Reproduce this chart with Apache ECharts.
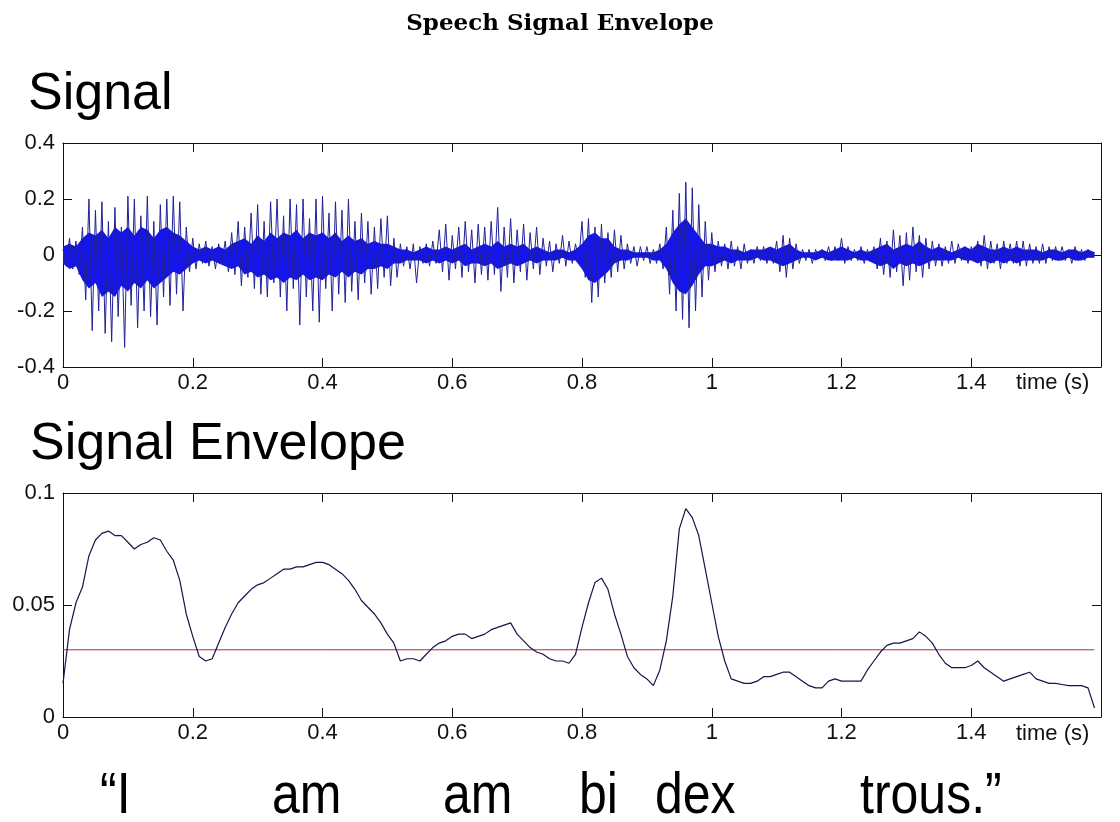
<!DOCTYPE html>
<html>
<head>
<meta charset="utf-8">
<script src="https://cdn.jsdelivr.net/npm/echarts@6/dist/echarts.min.js"></script>
<style>
  html, body { margin: 0; padding: 0; background: #fff; }
  #chart { width: 1120px; height: 822px; }
</style>
</head>
<body>
<div id="chart"></div>
<script>
// sampled speech waveform (spikes), one value every 5 ms
var dt = 0.005;
var signal = [
  0.02, -0.04, 0.06, -0.05, 0.05, -0.07, 0.10, -0.16, 0.20, -0.27, 0.16, -0.20, 0.19, -0.28, 0.12, -0.31, 0.17, -0.22, 0.10, -0.33,
  0.21, -0.18, 0.20, -0.26, 0.14, -0.20, 0.21, -0.22, 0.12, -0.25, 0.18, -0.15, 0.20, -0.18, 0.21, -0.14, 0.19, -0.20, 0.10, -0.06,
  0.06, -0.05, 0.04, -0.03, 0.05, -0.04, 0.03, -0.05, 0.04, -0.03, 0.05, -0.06, 0.08, -0.07, 0.12, -0.11, 0.10, -0.08, 0.15, -0.12,
  0.18, -0.14, 0.12, -0.15, 0.19, -0.10, 0.20, -0.15, 0.14, -0.20, 0.20, -0.12, 0.18, -0.25, 0.20, -0.15, 0.13, -0.20, 0.20, -0.24,
  0.21, -0.12, 0.15, -0.20, 0.19, -0.14, 0.16, -0.17, 0.20, -0.13, 0.12, -0.16, 0.15, -0.10, 0.12, -0.14, 0.10, -0.12, 0.13, -0.08,
  0.14, -0.11, 0.06, -0.08, 0.04, -0.04, 0.03, -0.05, 0.04, -0.10, 0.03, -0.03, 0.04, -0.04, 0.05, -0.03, 0.09, -0.06, 0.11, -0.09,
  0.07, -0.05, 0.10, -0.08, 0.12, -0.06, 0.09, -0.10, 0.11, -0.07, 0.10, -0.09, 0.12, -0.07, 0.17, -0.13, 0.10, -0.08, 0.13, -0.10,
  0.09, -0.06, 0.11, -0.09, 0.08, -0.05, 0.10, -0.07, 0.06, -0.04, 0.05, -0.06, 0.04, -0.03, 0.07, -0.04, 0.05, -0.03, 0.04, -0.02,
  0.12, -0.08, 0.13, -0.17, 0.10, -0.15, 0.11, -0.10, 0.08, -0.08, 0.09, -0.06, 0.07, -0.05, 0.04, -0.03, 0.03, -0.04, 0.03, -0.02,
  0.03, -0.03, 0.02, -0.03, 0.04, -0.05, 0.10, -0.14, 0.16, -0.20, 0.22, -0.23, 0.26, -0.26, 0.24, -0.20, 0.18, -0.15, 0.12, -0.09,
  0.08, -0.06, 0.05, -0.04, 0.04, -0.05, 0.05, -0.04, 0.03, -0.05, 0.04, -0.03, 0.02, -0.03, 0.03, -0.02, 0.03, -0.03, 0.02, -0.03,
  0.05, -0.06, 0.07, -0.08, 0.06, -0.05, 0.04, -0.03, 0.02, -0.02, 0.02, -0.03, 0.02, -0.01, 0.02, -0.02, 0.03, -0.02, 0.03, -0.02,
  0.06, -0.03, 0.03, -0.02, 0.02, -0.02, 0.03, -0.03, 0.02, -0.02, 0.03, -0.05, 0.06, -0.07, 0.05, -0.08, 0.09, -0.06, 0.07, -0.11,
  0.08, -0.09, 0.10, -0.06, 0.07, -0.08, 0.06, -0.05, 0.05, -0.04, 0.04, -0.04, 0.03, -0.03, 0.05, -0.03, 0.04, -0.02, 0.03, -0.03,
  0.03, -0.02, 0.05, -0.04, 0.07, -0.05, 0.05, -0.03, 0.04, -0.05, 0.05, -0.03, 0.04, -0.03, 0.05, -0.04, 0.05, -0.04, 0.04, -0.03,
  0.03, -0.03, 0.04, -0.03, 0.03, -0.02, 0.03, -0.02, 0.03, -0.02, 0.02, -0.03, 0.03, -0.02, 0.02, -0.02, 0.02, -0.01, 0.01
];

// dense core of the waveform (upper / lower edge), one value every 10 ms
var bodyStep = 0.01;
var bodyUpper = [
  0.03, 0.04, 0.03, 0.06, 0.08, 0.07, 0.09, 0.06, 0.10, 0.08,
  0.10, 0.07, 0.10, 0.09, 0.06, 0.09, 0.10, 0.08, 0.07, 0.05,
  0.03, 0.02, 0.03, 0.02, 0.03, 0.02, 0.04, 0.05, 0.06, 0.04,
  0.07, 0.05, 0.08, 0.06, 0.08, 0.07, 0.09, 0.06, 0.08, 0.07,
  0.08, 0.06, 0.08, 0.05, 0.07, 0.05, 0.06, 0.04, 0.05, 0.04,
  0.04, 0.03, 0.02, 0.02, 0.01, 0.02, 0.03, 0.02, 0.02, 0.03,
  0.02, 0.03, 0.04, 0.02, 0.03, 0.04, 0.03, 0.05, 0.03, 0.04,
  0.03, 0.04, 0.02, 0.03, 0.02, 0.01, 0.02, 0.02, 0.01, 0.02,
  0.04, 0.07, 0.08, 0.06, 0.06, 0.03, 0.02, 0.02, 0.01, 0.01,
  0.01, 0.01, 0.02, 0.04, 0.08, 0.11, 0.13, 0.10, 0.07, 0.04,
  0.04, 0.03, 0.03, 0.02, 0.02, 0.01, 0.02, 0.02, 0.02, 0.03,
  0.02, 0.03, 0.04, 0.02, 0.01, 0.01, 0.01, 0.02, 0.01, 0.02,
  0.03, 0.02, 0.01, 0.02, 0.01, 0.02, 0.03, 0.04, 0.02, 0.03,
  0.04, 0.03, 0.05, 0.03, 0.02, 0.03, 0.02, 0.01, 0.02, 0.03,
  0.02, 0.04, 0.03, 0.02, 0.02, 0.03, 0.02, 0.03, 0.02, 0.02,
  0.02, 0.01, 0.02, 0.02, 0.01, 0.02, 0.02, 0.01, 0.02, 0.01
];
var bodyLower = [
  -0.03, -0.05, -0.04, -0.09, -0.12, -0.10, -0.15, -0.13, -0.15, -0.11,
  -0.13, -0.10, -0.12, -0.09, -0.12, -0.10, -0.08, -0.06, -0.07, -0.05,
  -0.03, -0.02, -0.03, -0.02, -0.03, -0.04, -0.05, -0.04, -0.07, -0.06,
  -0.08, -0.07, -0.09, -0.08, -0.10, -0.08, -0.09, -0.07, -0.09, -0.08,
  -0.09, -0.07, -0.08, -0.06, -0.08, -0.06, -0.07, -0.05, -0.05, -0.04,
  -0.05, -0.03, -0.03, -0.02, -0.02, -0.02, -0.03, -0.02, -0.03, -0.02,
  -0.03, -0.02, -0.04, -0.03, -0.03, -0.04, -0.03, -0.05, -0.04, -0.03,
  -0.04, -0.03, -0.02, -0.03, -0.02, -0.02, -0.02, -0.01, -0.02, -0.02,
  -0.05, -0.09, -0.10, -0.08, -0.06, -0.03, -0.02, -0.02, -0.01, -0.01,
  -0.01, -0.02, -0.02, -0.05, -0.10, -0.13, -0.14, -0.11, -0.07, -0.04,
  -0.04, -0.03, -0.02, -0.03, -0.02, -0.02, -0.02, -0.01, -0.02, -0.02,
  -0.03, -0.04, -0.03, -0.02, -0.01, -0.01, -0.02, -0.01, -0.02, -0.02,
  -0.02, -0.02, -0.01, -0.02, -0.02, -0.03, -0.04, -0.03, -0.05, -0.03,
  -0.04, -0.03, -0.04, -0.03, -0.02, -0.02, -0.02, -0.02, -0.01, -0.02,
  -0.02, -0.03, -0.02, -0.03, -0.02, -0.03, -0.02, -0.03, -0.02, -0.02,
  -0.02, -0.02, -0.01, -0.02, -0.02, -0.01, -0.02, -0.02, -0.01, -0.01
];

// envelope, one value every 10 ms
var envStep = 0.01;
var envelope = [
  0.015, 0.039, 0.051, 0.058, 0.072, 0.079, 0.082, 0.083, 0.081, 0.081,
  0.078, 0.075, 0.077, 0.078, 0.080, 0.079, 0.074, 0.070, 0.061, 0.046,
  0.036, 0.027, 0.025, 0.026, 0.033, 0.040, 0.046, 0.051, 0.054, 0.057,
  0.059, 0.060, 0.062, 0.064, 0.066, 0.066, 0.067, 0.067, 0.068, 0.069,
  0.069, 0.068, 0.066, 0.064, 0.061, 0.057, 0.052, 0.049, 0.046, 0.042,
  0.037, 0.033, 0.025, 0.026, 0.026, 0.025, 0.028, 0.031, 0.033, 0.034,
  0.036, 0.037, 0.037, 0.035, 0.036, 0.037, 0.039, 0.040, 0.041, 0.042,
  0.037, 0.034, 0.031, 0.029, 0.028, 0.026, 0.025, 0.025, 0.024, 0.028,
  0.040, 0.051, 0.060, 0.062, 0.057, 0.046, 0.037, 0.027, 0.022, 0.019,
  0.017, 0.014, 0.021, 0.034, 0.054, 0.084, 0.093, 0.089, 0.081, 0.066,
  0.051, 0.036, 0.025, 0.017, 0.016, 0.015, 0.015, 0.016, 0.018, 0.018,
  0.019, 0.020, 0.020, 0.018, 0.016, 0.014, 0.013, 0.013, 0.016, 0.017,
  0.016, 0.016, 0.016, 0.016, 0.021, 0.025, 0.029, 0.032, 0.033, 0.033,
  0.034, 0.035, 0.038, 0.036, 0.033, 0.028, 0.024, 0.022, 0.022, 0.022,
  0.023, 0.025, 0.022, 0.020, 0.018, 0.016, 0.017, 0.018, 0.019, 0.020,
  0.017, 0.016, 0.015, 0.015, 0.0145, 0.014, 0.014, 0.014, 0.013, 0.004
];

var threshold = 0.03;
var endTime = 1.59;

var words = ["\u201cI", "am", "am", "bi", "dex", "trous.\u201d"];

var chart = echarts.init(document.getElementById("chart"));

var labelFont = "Liberation Sans";
var black = "#111";

// bottom axis with labels + mirrored top axis (matlab box)
function xAxes(gridIndex) {
  var common = {
    type: "value",
    gridIndex: gridIndex,
    min: 0,
    max: 1.6,
    interval: 0.2,
    splitLine: { show: false },
    axisLine: { show: true, onZero: false, lineStyle: { color: black, width: 1 } },
    axisTick: { show: true, inside: true, length: 9, lineStyle: { color: black } },
  };
  return [
    Object.assign({}, common, {
      position: "bottom",
      axisLabel: {
        show: true,
        margin: 5,
        fontFamily: labelFont,
        fontSize: 22,
        color: black,
        formatter: function (v) {
          if (v > 1.55) return "";
          return String(Math.round(v * 10) / 10);
        },
      },
    }),
    Object.assign({}, common, { position: "top", axisLabel: { show: false } }),
  ];
}

function yAxes(gridIndex, min, max, interval) {
  var common = {
    type: "value",
    gridIndex: gridIndex,
    min: min,
    max: max,
    interval: interval,
    splitLine: { show: false },
    axisLine: { show: true, onZero: false, lineStyle: { color: black, width: 1 } },
    axisTick: { show: true, inside: true, length: 9, lineStyle: { color: black } },
  };
  return [
    Object.assign({}, common, {
      position: "left",
      axisLabel: {
        show: true,
        margin: 8,
        fontFamily: labelFont,
        fontSize: 22,
        color: black,
        formatter: function (v) {
          return String(Math.round(v * 100) / 100);
        },
      },
    }),
    Object.assign({}, common, { position: "right", axisLabel: { show: false } }),
  ];
}

var wordX = [100, 272, 443, 579, 655, 860];

var graphics = [
  {
    type: "text",
    x: 28,
    y: 95,
    style: { text: "Signal", fontFamily: labelFont, fontSize: 52, fill: "#000", textAlign: "left", verticalAlign: "middle" },
  },
  {
    type: "text",
    x: 30,
    y: 445,
    style: { text: "Signal Envelope", fontFamily: labelFont, fontSize: 52, fill: "#000", textAlign: "left", verticalAlign: "middle" },
  },
  {
    type: "text",
    x: 1016,
    y: 383,
    style: { text: "time (s)", fontFamily: labelFont, fontSize: 22, fill: black, textAlign: "left", verticalAlign: "middle" },
  },
  {
    type: "text",
    x: 1016,
    y: 734,
    style: { text: "time (s)", fontFamily: labelFont, fontSize: 22, fill: black, textAlign: "left", verticalAlign: "middle" },
  },
];
words.forEach(function (w, i) {
  graphics.push({
    type: "text",
    x: wordX[i],
    y: 797,
    scaleY: 1.14,
    style: { text: w, fontFamily: labelFont, fontSize: 50, fill: "#000", textAlign: "left", verticalAlign: "middle" },
  });
});

// filled core of the waveform, drawn under the spikes
function bodySeries(name, values) {
  return {
    name: name,
    type: "line",
    xAxisIndex: 0,
    yAxisIndex: 0,
    symbol: "none",
    lineStyle: { width: 0 },
    areaStyle: { color: "#1414f0", opacity: 1, origin: 0 },
    data: values.map(function (v, i) { return [i * bodyStep, v]; }),
  };
}

var option = {
  backgroundColor: "#fff",
  animation: false,
  title: {
    text: "Speech Signal Envelope",
    left: "center",
    top: 8,
    textStyle: { fontFamily: "DejaVu Serif", fontWeight: "bold", fontSize: 23, color: "#000" },
  },
  grid: [
    { left: 63, top: 143, width: 1038, height: 224, outerBoundsMode: "none" },
    { left: 63, top: 493, width: 1038, height: 224, outerBoundsMode: "none" },
  ],
  xAxis: xAxes(0).concat(xAxes(1)),
  yAxis: yAxes(0, -0.4, 0.4, 0.2).concat(yAxes(1, 0, 0.1, 0.05)),
  series: [
    bodySeries("body upper", bodyUpper),
    bodySeries("body lower", bodyLower),
    {
      name: "signal",
      type: "line",
      xAxisIndex: 0,
      yAxisIndex: 0,
      symbol: "none",
      lineStyle: { color: "#20209a", width: 1 },
      data: signal.map(function (v, i) { return [i * dt, v]; }),
    },
    {
      name: "threshold",
      type: "line",
      xAxisIndex: 2,
      yAxisIndex: 2,
      symbol: "none",
      lineStyle: { color: "#b03030", width: 1 },
      data: [[0, threshold], [endTime, threshold]],
    },
    {
      name: "envelope",
      type: "line",
      xAxisIndex: 2,
      yAxisIndex: 2,
      symbol: "none",
      lineStyle: { color: "#15154a", width: 1.2 },
      data: envelope.map(function (v, i) { return [i * envStep, v]; }),
    },
  ],
  graphic: graphics,
};

chart.setOption(option);
</script>
</body>
</html>
